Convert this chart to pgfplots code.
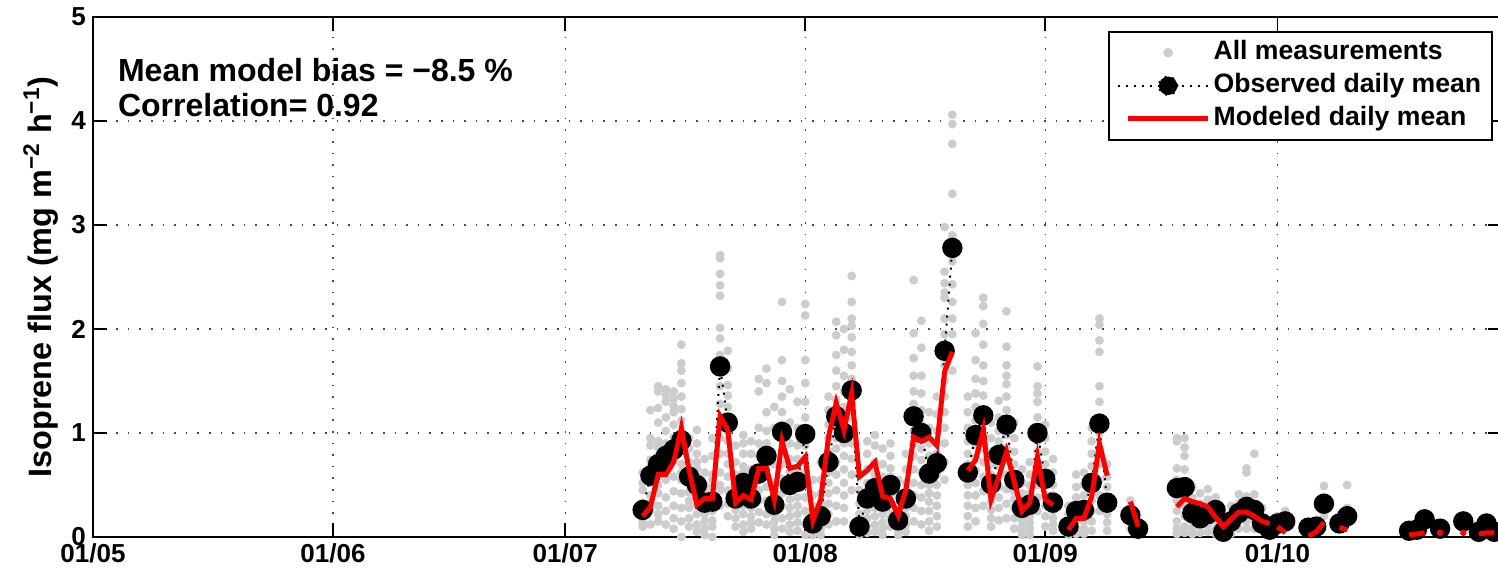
\documentclass[border=0pt]{standalone}
\usepackage{fontspec}
\setmainfont{Liberation Sans}
\usepackage{pgfplots}
\pgfplotsset{compat=1.18}
\usepackage{pgfplotstable}

\definecolor{measgray}{RGB}{204,204,204}
\definecolor{modred}{RGB}{255,0,0}

% daily means: day after 1 May, observed, modeled
\pgfplotstableread{
day obs mod
71 0.26 0.20
72 0.59 0.29
73 0.70 0.60
74 0.78 0.60
75 0.84 0.72
76 0.93 1.05
77 0.58 0.64
78 0.50 0.31
79 0.33 0.37
80 0.34 0.37
81 1.64 1.16
82 1.10 1.03
83 0.37 0.33
84 0.52 0.40
85 0.37 0.36
86 0.61 0.66
87 0.78 0.66
88 0.31 0.36
89 1.01 0.92
90 0.50 0.66
91 0.53 0.68
92 0.99 0.77
93 0.13 0.16
94 0.20 0.36
95 0.72 0.96
96 1.16 1.29
97 1.00 1.03
98 1.41 1.38
99 0.10 0.58
100 0.37 0.64
101 0.47 0.72
102 0.34 0.39
103 0.50 0.37
104 0.16 0.21
105 0.37 0.45
106 1.16 0.96
107 1.00 0.92
108 0.61 0.96
109 0.71 0.88
110 1.79 1.59
111 2.78 1.78
112 nan nan
113 0.62 0.64
114 0.98 0.74
115 1.17 1.03
116 0.51 0.36
117 0.79 0.58
118 1.08 0.82
119 0.55 0.53
120 0.28 0.25
121 0.31 0.33
122 1.00 0.77
123 0.56 0.36
124 0.33 0.31
125 nan nan
126 0.10 0.07
127 0.25 0.18
128 0.26 0.18
129 0.52 0.39
130 1.09 0.90
131 0.33 0.59
132 nan nan
134 0.21 0.34
135 0.08 0.10
136 nan nan
140 0.47 0.29
141 0.48 0.37
142 0.23 0.34
143 0.18 0.32
144 0.22 0.29
145 0.26 0.19
146 0.05 0.10
147 0.15 0.17
148 0.23 0.24
149 0.29 0.24
150 0.26 0.20
151 0.13 0.15
152 0.07 0.13
152.5 nan nan
153 0.13 0.10
154 0.15 0.04
155 nan nan
157 0.09 0.01
158 0.10 0.05
159 0.32 0.14
160 nan nan
161 0.13 0.09
162 0.20 0.07
163 nan nan
170 0.06 0.02
171 0.07 0.03
172 0.17 0.04
173 nan nan
174 0.08 nan
175 nan nan
177 0.15 nan
178 nan nan
179 0.05 0.03
180 0.13 0.04
181 0.05 0.04
}\dailymeans

\begin{document}
\begin{tikzpicture}
\begin{axis}[
  scale only axis,
  width=704.5pt, height=260pt,
  xmin=0, xmax=182, ymin=0, ymax=5,
  xtick={0,31,61,92,123,153},
  xticklabels={01/05,01/06,01/07,01/08,01/09,01/10},
  ytick={0,1,2,3,4,5},
  tick align=inside,
  major tick length=7pt,
  grid=major,
  major grid style={black!70, line width=0.6pt, dash pattern=on 0.8pt off 5pt},
  axis line style={line width=0.9pt},
  every tick/.style={black, line width=0.9pt},
  tick label style={font=\bfseries\fontsize{13}{15}\selectfont},
  /pgf/number format/assume math mode=true,
  ylabel={Isoprene flux (mg m\textsuperscript{−2} h\textsuperscript{−1})},
  every axis y label/.style={at={(rel axis cs:0,0.5)}, rotate=90, anchor=center, yshift=26pt,
    font=\bfseries\fontsize{16.2}{19}\selectfont},
  unbounded coords=jump,
  clip=false,
  clip marker paths=true,
  legend style={
    at={(rel axis cs:1,1)}, anchor=north east, xshift=-4.5pt, yshift=-7pt,
    font=\bfseries\fontsize{13.3}{15}\selectfont,
    draw=black, line width=0.8pt, fill=white,
    inner xsep=4pt, inner ysep=3pt,
    row sep=1.5pt,
    nodes={inner sep=1.5pt, text height=9.5pt, text depth=2.5pt},
  },
  legend cell align=left,
]

% all measurements
\addplot[only marks, mark=*, mark size=2pt, color=measgray,
  legend image code/.code={\path[draw=none] (-5pt,0pt) -- (40pt,0pt);
    \fill[measgray] (20pt,0pt) circle (2pt);}]
coordinates {
(71,0.45) (71,0.33) (71,0.24) (71,0.14) (71,0.52) (71,0.62) (71,0.10) (71,0.30)
(72,1.22) (72,0.88) (72,0.74) (72,0.52) (72,0.26) (72,0.12) (72,0.40) (72,0.95) (72,0.60) (72,0.33) (72,0.68)
(73,1.45) (73,1.40) (73,1.24) (73,1.10) (73,0.92) (73,0.78) (73,0.50) (73,0.30) (73,0.15) (73,0.62) (73,0.86) (73,0.42) (73,0.22)
(74,1.42) (74,1.30) (74,1.15) (74,1.02) (74,0.90) (74,0.80) (74,0.66) (74,0.55) (74,0.38) (74,0.25) (74,0.12) (74,1.36) (74,0.72)
(75,1.40) (75,1.33) (75,1.20) (75,1.08) (75,0.96) (75,0.74) (75,0.58) (75,0.44) (75,0.30) (75,0.18) (75,0.08) (75,1.26) (75,0.85)
(76,1.85) (76,1.67) (76,1.60) (76,1.48) (76,1.35) (76,1.23) (76,1.12) (76,0.98) (76,0.84) (76,0.70) (76,0.55) (76,0.42) (76,0.28) (76,0.15) (76,0.00) (76,0.62)
(77,0.95) (77,0.85) (77,0.72) (77,0.62) (77,0.52) (77,0.43) (77,0.35) (77,0.28) (77,0.18) (77,0.10) (77,0.65) (77,0.30)
(78,1.03) (78,0.90) (78,0.80) (78,0.66) (78,0.58) (78,0.49) (78,0.40) (78,0.31) (78,0.22) (78,0.12) (78,0.05) (78,0.72)
(79,0.75) (79,0.62) (79,0.50) (79,0.44) (79,0.38) (79,0.30) (79,0.22) (79,0.15) (79,0.08) (79,0.02) (79,0.34)
(80,0.95) (80,0.78) (80,0.60) (80,0.48) (80,0.40) (80,0.32) (80,0.25) (80,0.16) (80,0.10) (80,0.00) (80,0.55)
(81,2.71) (81,2.68) (81,2.53) (81,2.42) (81,2.32) (81,2.01) (81,1.91) (81,1.75) (81,1.60) (81,1.45) (81,1.28) (81,1.10) (81,0.95) (81,0.80) (81,0.62) (81,0.45) (81,0.30) (81,0.50)
(82,1.79) (82,1.62) (82,1.46) (82,1.36) (82,1.25) (82,1.12) (82,1.02) (82,0.92) (82,0.80) (82,0.70) (82,0.58) (82,0.45) (82,0.32) (82,0.20)
(83,0.88) (83,0.72) (83,0.60) (83,0.50) (83,0.42) (83,0.34) (83,0.26) (83,0.18) (83,0.10) (83,0.30) (83,0.45)
(84,0.98) (84,0.90) (84,0.80) (84,0.68) (84,0.58) (84,0.48) (84,0.40) (84,0.30) (84,0.22) (84,0.12) (84,0.05) (84,0.62)
(85,0.92) (85,0.80) (85,0.65) (85,0.52) (85,0.44) (85,0.36) (85,0.28) (85,0.20) (85,0.14) (85,0.08) (85,0.40)
(86,1.52) (86,1.40) (86,1.05) (86,0.90) (86,0.78) (86,0.66) (86,0.55) (86,0.45) (86,0.35) (86,0.24) (86,0.14) (86,0.60)
(87,1.62) (87,1.48) (87,1.20) (87,1.02) (87,0.90) (87,0.80) (87,0.70) (87,0.60) (87,0.48) (87,0.35) (87,0.22) (87,0.12) (87,0.85)
(88,1.25) (88,1.05) (88,0.70) (88,0.52) (88,0.40) (88,0.30) (88,0.22) (88,0.15) (88,0.08) (88,0.02) (88,0.35)
(89,2.26) (89,1.70) (89,1.50) (89,1.35) (89,1.20) (89,1.08) (89,0.95) (89,0.82) (89,0.70) (89,0.56) (89,0.42) (89,0.30) (89,0.18) (89,0.08)
(90,1.42) (90,1.10) (90,0.90) (90,0.75) (90,0.62) (90,0.52) (90,0.44) (90,0.36) (90,0.28) (90,0.20) (90,0.12) (90,0.05)
(91,1.30) (91,1.05) (91,0.88) (91,0.75) (91,0.65) (91,0.56) (91,0.48) (91,0.38) (91,0.30) (91,0.22) (91,0.14) (91,0.06)
(92,2.24) (92,2.13) (92,1.70) (92,1.48) (92,1.30) (92,1.15) (92,1.00) (92,0.88) (92,0.75) (92,0.62) (92,0.50) (92,0.38) (92,0.25) (92,0.12) (92,0.02)
(93,0.55) (93,0.40) (93,0.30) (93,0.22) (93,0.16) (93,0.10) (93,0.05) (93,0.02) (93,0.12) (93,0.08)
(94,0.72) (94,0.55) (94,0.42) (94,0.32) (94,0.25) (94,0.18) (94,0.12) (94,0.08) (94,0.02) (94,0.30)
(95,1.35) (95,1.22) (95,1.08) (95,0.95) (95,0.82) (95,0.72) (95,0.62) (95,0.52) (95,0.42) (95,0.32) (95,0.22) (95,0.12)
(96,2.07) (96,1.94) (96,1.75) (96,1.60) (96,1.45) (96,1.32) (96,1.20) (96,1.08) (96,0.95) (96,0.85) (96,0.72) (96,0.60) (96,0.45) (96,0.30) (96,0.15)
(97,2.00) (97,1.80) (97,1.55) (97,1.40) (97,1.25) (97,1.12) (97,1.00) (97,0.90) (97,0.78) (97,0.65) (97,0.52) (97,0.40) (97,0.28) (97,0.15)
(98,2.51) (98,2.26) (98,2.10) (98,2.03) (98,1.92) (98,1.78) (98,1.65) (98,1.52) (98,1.40) (98,1.28) (98,1.15) (98,1.02) (98,0.90) (98,0.75) (98,0.60) (98,0.45)
(99,0.60) (99,0.45) (99,0.32) (99,0.22) (99,0.15) (99,0.10) (99,0.05) (99,0.02) (99,0.08)
(100,0.92) (100,0.80) (100,0.65) (100,0.52) (100,0.42) (100,0.34) (100,0.26) (100,0.18) (100,0.10) (100,0.04) (100,0.30)
(101,0.98) (101,0.88) (101,0.72) (101,0.60) (101,0.52) (101,0.44) (101,0.36) (101,0.28) (101,0.20) (101,0.12) (101,0.05) (101,0.40)
(102,0.85) (102,0.70) (102,0.58) (102,0.46) (102,0.38) (102,0.30) (102,0.22) (102,0.14) (102,0.08) (102,0.02) (102,0.34)
(103,0.90) (103,0.78) (103,0.66) (103,0.58) (103,0.50) (103,0.42) (103,0.34) (103,0.26) (103,0.18) (103,0.10) (103,0.45)
(104,0.55) (104,0.40) (104,0.30) (104,0.22) (104,0.16) (104,0.10) (104,0.06) (104,0.02) (104,0.12)
(105,0.80) (105,0.65) (105,0.52) (105,0.44) (105,0.36) (105,0.28) (105,0.20) (105,0.12) (105,0.05) (105,0.40)
(106,2.47) (106,1.96) (106,1.72) (106,1.55) (106,1.40) (106,1.28) (106,1.15) (106,1.02) (106,0.90) (106,0.78) (106,0.65) (106,0.52) (106,0.40) (106,0.28) (106,0.15)
(107,2.08) (107,1.82) (107,1.55) (107,1.38) (107,1.22) (107,1.08) (107,0.96) (107,0.85) (107,0.74) (107,0.62) (107,0.50) (107,0.38) (107,0.25) (107,0.12)
(108,1.20) (108,1.05) (108,0.90) (108,0.78) (108,0.68) (108,0.58) (108,0.50) (108,0.42) (108,0.34) (108,0.25) (108,0.15) (108,0.06)
(109,1.35) (109,1.18) (109,1.02) (109,0.90) (109,0.80) (109,0.70) (109,0.60) (109,0.50) (109,0.40) (109,0.30) (109,0.20) (109,0.10)
(110,2.98) (110,2.55) (110,2.44) (110,2.35) (110,2.30) (110,2.10) (110,1.95) (110,1.80) (110,1.65) (110,1.50) (110,1.35) (110,1.20) (110,1.05) (110,0.90) (110,0.72) (110,0.55)
(111,4.06) (111,3.97) (111,3.78) (111,3.30) (111,2.90) (111,2.65) (111,2.43) (111,2.26) (111,2.10) (111,1.95) (111,1.60)
(113,1.35) (113,1.20) (113,1.05) (113,0.92) (113,0.80) (113,0.70) (113,0.60) (113,0.50) (113,0.40) (113,0.30) (113,0.20) (113,0.10)
(114,1.96) (114,1.70) (114,1.52) (114,1.38) (114,1.25) (114,1.12) (114,1.00) (114,0.88) (114,0.76) (114,0.64) (114,0.52) (114,0.40) (114,0.28) (114,0.15)
(115,2.30) (115,2.22) (115,2.05) (115,1.85) (115,1.65) (115,1.50) (115,1.36) (115,1.22) (115,1.10) (115,0.98) (115,0.85) (115,0.72) (115,0.58) (115,0.44) (115,0.30)
(116,1.10) (116,0.95) (116,0.82) (116,0.70) (116,0.60) (116,0.50) (116,0.42) (116,0.34) (116,0.26) (116,0.18) (116,0.10)
(117,1.31) (117,1.15) (117,1.02) (117,0.92) (117,0.84) (117,0.76) (117,0.68) (117,0.58) (117,0.48) (117,0.38) (117,0.28) (117,0.16)
(118,2.17) (118,1.83) (118,1.65) (118,1.55) (118,1.47) (118,1.35) (118,1.22) (118,1.10) (118,0.98) (118,0.86) (118,0.74) (118,0.60) (118,0.46) (118,0.32) (118,0.18)
(119,1.10) (119,0.95) (119,0.82) (119,0.70) (119,0.60) (119,0.52) (119,0.44) (119,0.36) (119,0.28) (119,0.18) (119,0.08)
(120,0.65) (120,0.52) (120,0.42) (120,0.34) (120,0.28) (120,0.22) (120,0.16) (120,0.10) (120,0.05) (120,0.02)
(121,0.72) (121,0.60) (121,0.50) (121,0.42) (121,0.34) (121,0.26) (121,0.20) (121,0.14) (121,0.08) (121,0.02)
(122,1.64) (122,1.45) (122,1.38) (122,1.30) (122,1.15) (122,1.02) (122,0.92) (122,0.82) (122,0.72) (122,0.62) (122,0.50) (122,0.38) (122,0.25)
(123,1.08) (123,0.95) (123,0.82) (123,0.70) (123,0.60) (123,0.50) (123,0.40) (123,0.30) (123,0.20) (123,0.10)
(124,0.75) (124,0.62) (124,0.50) (124,0.40) (124,0.32) (124,0.25) (124,0.18) (124,0.12) (124,0.06)
(126,0.30) (126,0.22) (126,0.15) (126,0.10) (126,0.06) (126,0.02)
(127,0.60) (127,0.48) (127,0.38) (127,0.30) (127,0.22) (127,0.15) (127,0.08) (127,0.03)
(128,0.62) (128,0.50) (128,0.40) (128,0.30) (128,0.22) (128,0.15) (128,0.08) (128,0.03)
(129,1.05) (129,0.92) (129,0.80) (129,0.68) (129,0.56) (129,0.45) (129,0.35) (129,0.25) (129,0.15) (129,0.06)
(130,2.10) (130,2.04) (130,1.89) (130,1.78) (130,1.45) (130,1.30) (130,1.15) (130,1.00) (130,0.85) (130,0.70) (130,0.55) (130,0.40) (130,0.25)
(131,0.70) (131,0.58) (131,0.48) (131,0.38) (131,0.30) (131,0.22) (131,0.14) (131,0.06)
(134,0.35) (134,0.25) (134,0.15) (134,0.08)
(135,0.15) (135,0.08) (135,0.03)
(140,0.95) (140,0.92) (140,0.66) (140,0.55) (140,0.45) (140,0.35) (140,0.25) (140,0.15) (140,0.08) (140,0.03)
(141,0.95) (141,0.86) (141,0.78) (141,0.65) (141,0.50) (141,0.40) (141,0.30) (141,0.20) (141,0.10) (141,0.04)
(142,0.48) (142,0.38) (142,0.30) (142,0.22) (142,0.15) (142,0.08) (142,0.03)
(143,0.42) (143,0.32) (143,0.25) (143,0.18) (143,0.10) (143,0.04)
(144,0.46) (144,0.36) (144,0.28) (144,0.20) (144,0.12) (144,0.05)
(145,0.38) (145,0.30) (145,0.22) (145,0.15) (145,0.08) (145,0.03)
(146,0.18) (146,0.12) (146,0.06) (146,0.02)
(147,0.30) (147,0.22) (147,0.15) (147,0.08) (147,0.03)
(148,0.41) (148,0.32) (148,0.24) (148,0.16) (148,0.08)
(149,0.66) (149,0.62) (149,0.39) (149,0.30) (149,0.22) (149,0.15) (149,0.08)
(150,0.80) (150,0.41) (150,0.32) (150,0.24) (150,0.16) (150,0.08)
(151,0.28) (151,0.20) (151,0.12) (151,0.06)
(152,0.15) (152,0.08) (152,0.03)
(153,0.20) (153,0.12) (153,0.06)
(154,0.25) (154,0.15) (154,0.08)
(157,0.12) (157,0.06) (158,0.15) (158,0.08)
(159,0.49) (159,0.38) (159,0.28) (159,0.20)
(161,0.18) (161,0.10) (162,0.50) (162,0.28) (162,0.15)
};
\addlegendentry{All measurements}

% observed daily mean
\addplot[black, line width=1pt, dash pattern=on 1pt off 3pt,
  mark=*, mark size=4.6pt, mark options={solid, fill=black},
  legend image code/.code={\draw[black, line width=1pt, dash pattern=on 1pt off 3pt] (-5pt,0pt) -- (40pt,0pt);
    \fill[black] (20pt,0pt) circle (4.6pt);}]
  table[x=day, y=obs] {\dailymeans};
\addlegendentry{Observed daily mean}

% modeled daily mean
\addplot[modred, solid, line width=2.5pt, mark=none,
  legend image code/.code={\path[draw=none] (-5pt,0pt) -- (0pt,0pt);
    \draw[modred, solid, line width=2.5pt] (0pt,0pt) -- (40pt,0pt);}]
  table[x=day, y=mod] {\dailymeans};
\addlegendentry{Modeled daily mean}

% isolated modeled days
\addplot[forget plot, only marks, mark=*, mark size=1.4pt, color=modred]
  coordinates {(174,0.04) (177,0.04)};

\node[anchor=base west, font=\bfseries\fontsize{16}{19}\selectfont]
  at ([xshift=9pt, yshift=-32.5pt]rel axis cs:0,1) {Mean model bias = −8.5 \%};
\node[anchor=base west, font=\bfseries\fontsize{16}{19}\selectfont]
  at ([xshift=9pt, yshift=-50pt]rel axis cs:0,1) {Correlation= 0.92};
% panel label, mostly cut off by the top edge
\node[anchor=base west, inner sep=0pt, font=\bfseries\fontsize{18}{21}\selectfont]
  at ([xshift=10pt, yshift=12.5pt]rel axis cs:0,1) {(a)};
\end{axis}
\pgfresetboundingbox
\path[use as bounding box] (-46.5pt,-19.5pt) rectangle (702.5pt,268.5pt);
\end{tikzpicture}
\end{document}
